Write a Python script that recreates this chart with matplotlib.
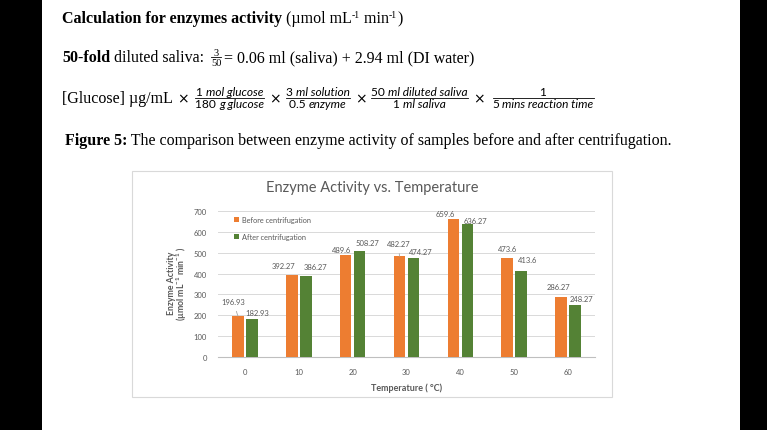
import matplotlib
matplotlib.use('Agg')
import matplotlib.pyplot as plt
from matplotlib.patches import Rectangle
from matplotlib.lines import Line2D
import numpy as np

# chart data
temps = ['0', '10', '20', '30', '40', '50', '60']
before = [196.93, 392.27, 489.6, 482.27, 659.6, 473.6, 286.27]
after = [182.93, 386.27, 508.27, 474.27, 636.27, 413.6, 248.27]
yticks = [0, 100, 200, 300, 400, 500, 600, 700]

# label nudges in pixels (the labels were dragged around by hand in Excel)
before_off = [(-5, 15), (-8, 10), (-4, 5), (-1, 13), (-8, 6), (0, 10), (-3, 11)]
after_off = [(5, 6), (10, 10), (8, 8), (7, 6), (8, 4), (6, 11), (6, 7)]
leader = [True, False, False, True, False, False, False]

ORANGE = '#ED7D31'
GREEN = '#548235'
GREY = '#595959'
SERIF = 'Liberation Serif'
SANS = 'Lato'

plt.rcParams['mathtext.fontset'] = 'custom'
plt.rcParams['mathtext.rm'] = 'Lato:bold'
plt.rcParams['mathtext.it'] = 'Lato:bold'
plt.rcParams['mathtext.bf'] = 'Lato:bold'

W, H = 767, 431
fig = plt.figure(figsize=(W / 100, H / 100), dpi=100)
fig.patch.set_facecolor('black')
fig.patches.append(Rectangle((42 / W, 0), (740 - 42) / W, 1, transform=fig.transFigure,
                             facecolor='white', edgecolor='none', zorder=0))
rend = fig.canvas.get_renderer()


def put(x, y, s, size, **kw):
    """text with left edge at pixel x, baseline at pixel y (from top); returns right edge"""
    kw.setdefault('family', SERIF)
    kw.setdefault('ha', 'left')
    t = fig.text(x / W, 1 - y / H, s, va='baseline', fontsize=size, color='black', **kw)
    bb = t.get_window_extent(renderer=rend)
    return bb.x1


def width(pieces, size):
    tot = 0
    for s, style in pieces:
        t = fig.text(0, 0, s, fontsize=size, family=SANS, style=style)
        tot += t.get_window_extent(renderer=rend).width
        t.remove()
    return tot


def frac(x, num, den, yline, size=8.6):
    wn, wd = width(num, size), width(den, size)
    w = max(wn, wd)
    for pieces, wp, yb in ((num, wn, yline - 2.5), (den, wd, yline + 8.5)):
        xx = x + (w - wp) / 2
        for s, style in pieces:
            xx = put(xx, yb, s, size, family=SANS, style=style)
    fig.add_artist(Line2D([x / W, (x + w) / W], [1 - yline / H] * 2, color='black', lw=0.6))
    return x + w


FS = 11.5
# ---- document text above the chart ----
x = put(62, 23, 'Calculation for enzymes activity', FS, weight='bold')
x = put(x, 23, ' (µmol mL', FS)
x = put(x, 18, '-1', 7)
x = put(x, 23, ' min', FS)
x = put(x, 18, '-1', 7)
put(x, 23, ')', FS)

x = put(62, 62, '50-fold', FS, weight='bold')
x = put(x, 62, ' diluted saliva:  ', FS)
put(x + 1.5, 56, '3', 7.5)
put(x - 1, 66, '50', 7.5)
fig.add_artist(Line2D([(x - 1) / W, (x + 9) / W], [1 - 58 / H] * 2, color='black', lw=0.6))
put(x + 12, 62, '= 0.06 ml (saliva) + 2.94 ml (DI water)', FS)

x = put(62, 103, '[Glucose] µg/mL', FS)
mul = dict(family='DejaVu Sans')
x = put(x + 4, 103, '×', 10, **mul)
x = frac(x + 7, [('1 ', 'normal'), ('mol glucose', 'italic')],
         [('180 ', 'normal'), ('g glucose', 'italic')], 99)
x = put(x + 5, 103, '×', 10, **mul)
x = frac(x + 5, [('3 ', 'normal'), ('ml solution', 'italic')],
         [('0.5 ', 'normal'), ('enzyme', 'italic')], 99)
x = put(x + 5, 103, '×', 10, **mul)
x = frac(x + 5, [('50 ', 'normal'), ('ml diluted saliva', 'italic')],
         [('1 ', 'normal'), ('ml saliva', 'italic')], 99)
x = put(x + 5, 103, '×', 10, **mul)
frac(x + 8, [('1', 'normal')], [('5 ', 'normal'), ('mins reaction time', 'italic')], 99)

x = put(65, 145, 'Figure 5:', FS, weight='bold')
put(x, 145, ' The comparison between enzyme activity of samples before and after centrifugation.', FS)

# ---- embedded Excel chart ----
fig.patches.append(Rectangle((132 / W, 1 - 398 / H), 480 / W, 226 / H, transform=fig.transFigure,
                             facecolor='white', edgecolor='#d9d9d9', lw=0.8, zorder=1))
ax = fig.add_axes([218 / W, 1 - 358.3 / H, (595 - 218) / W, (358.3 - 211.7) / H], zorder=2)
ax.patch.set_alpha(0)

xs = np.arange(len(temps))
w = 0.215
b1 = ax.bar(xs - 0.13, before, w, color=ORANGE, label='Before centrifugation', zorder=3)
b2 = ax.bar(xs + 0.13, after, w, color=GREEN, label='After centrifugation', zorder=3)

for bars, vals, offs in ((b1, before, before_off), (b2, after, after_off)):
    for i, (b, v) in enumerate(zip(bars, vals)):
        dx, dy = offs[i]
        ap = None
        if bars is b1 and leader[i]:
            ap = dict(arrowstyle='-', color='#a6a6a6', lw=0.6, shrinkA=3, shrinkB=0)
        ax.annotate(f'{v:g}', (b.get_x() + b.get_width() / 2, v), xytext=(dx, dy),
                    textcoords='offset pixels', ha='center', va='center',
                    fontsize=5.5, family=SANS, color=GREY, arrowprops=ap)

ax.set_xlim(-0.5, len(temps) - 0.5)
ax.set_ylim(0, 700)
ax.set_yticks(yticks)
ax.set_xticks(xs)
ax.set_xticklabels(temps)
ax.tick_params(length=0, labelsize=5.5, labelcolor=GREY, pad=8)
for lab in ax.get_xticklabels() + ax.get_yticklabels():
    lab.set_family(SANS)
ax.grid(axis='y', color='#d9d9d9', lw=0.7, zorder=0)
ax.set_axisbelow(True)
for s in ('top', 'right', 'left'):
    ax.spines[s].set_visible(False)
ax.spines['bottom'].set_color('#bfbfbf')
ax.spines['bottom'].set_linewidth(0.8)

ax.set_xlabel('Temperature ( °C)', fontsize=6.5, family=SANS, weight='bold', color=GREY, labelpad=5)
fig.text(171 / W, 1 - 283 / H, 'Enzyme Activity', rotation=90, ha='center', va='center',
         fontsize=6.3, family=SANS, weight='bold', color=GREY)
fig.text(181.5 / W, 1 - 284 / H, '(µmol mL$^{-1}$ min$^{-1}$ )', rotation=90, ha='center', va='center',
         fontsize=6.3, family=SANS, weight='bold', color=GREY)
fig.text(372 / W, 1 - 188.5 / H, 'Enzyme Activity vs. Temperature', ha='center', va='center',
         fontsize=10.5, family=SANS, color=GREY)

ax.legend(loc='upper left', bbox_to_anchor=(0.025, 1.01), frameon=False, prop=dict(family=SANS, size=5.3),
          handlelength=0.7, handleheight=0.7, handletextpad=0.4, labelspacing=1.4, labelcolor=GREY)

fig.savefig('out.png', dpi=100, facecolor='black')
